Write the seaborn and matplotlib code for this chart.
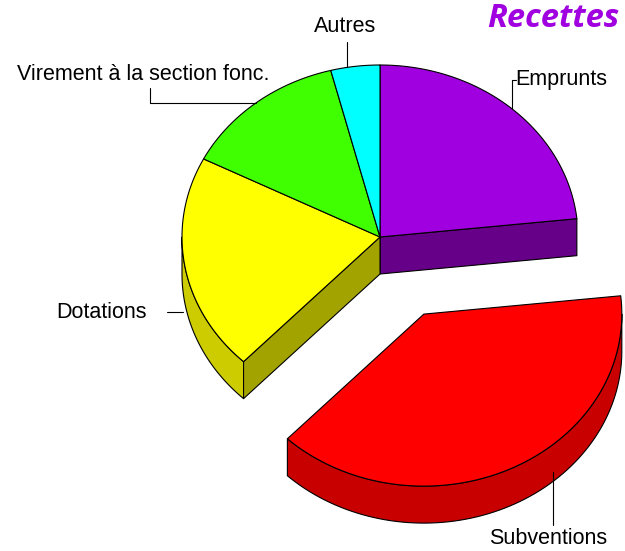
import numpy as np
import matplotlib
matplotlib.use("Agg")
import matplotlib.pyplot as plt
from matplotlib.patches import Polygon
import seaborn as sns

# data
labels = ["Emprunts", "Subventions", "Dotations", "Virement à la section fonc.", "Autres"]
values = [23.3, 38.8, 20.4, 13.5, 4.0]
explode = [0.0, 0.5, 0.0, 0.0, 0.0]
top_colors = ["#a000e0", "#ff0000", "#ffff00", "#40ff00", "#00ffff"]
arc_colors = ["#7a00aa", "#c80000", "#cccc00", "#30c000", "#00c0c0"]
side_colors = ["#660088", "#a00000", "#a3a300", "#289000", "#009090"]
title = "Recettes"

# pseudo-3D geometry (pixels)
CX, CY = 380, 237
RX, RY = 198, 172
DEPTH = 37

sns.set_theme(style="white")
plt.rcParams["font.family"] = ["Liberation Sans", "DejaVu Sans"]
plt.rcParams["text.color"] = "black"

fig = plt.figure(figsize=(6.25, 5.51), dpi=100)
ax = fig.add_axes([0, 0, 1, 1])
ax.set_xlim(0, 625)
ax.set_ylim(551, 0)
ax.axis("off")


def rim(cx, cy, ang, dz=0.0):
    a = np.radians(ang)
    return cx + RX * np.cos(a), cy - RY * np.sin(a) + dz


def arc(cx, cy, a1, a2, dz=0.0, n=80):
    t = np.radians(np.linspace(a1, a2, n))
    return np.column_stack([cx + RX * np.cos(t), cy - RY * np.sin(t) + dz])


# angles: start at 90 deg, clockwise
total = sum(values)
slices = []
start = 90.0
for i, v in enumerate(values):
    span = 360.0 * v / total
    a2 = start
    a1 = start - span
    mid = np.radians((a1 + a2) / 2)
    cx = CX + explode[i] * RX * np.cos(mid)
    cy = CY - explode[i] * RY * np.sin(mid)
    slices.append((a1, a2, cx, cy))
    start = a1

kw = dict(edgecolor="black", linewidth=0.8, joinstyle="round")
n = len(values)

# walls first
for i, (a1, a2, cx, cy) in enumerate(slices):
    # outer wall, front half only (180..360 deg)
    for k in (-1, 0, 1):
        lo = max(a1, 180 + 360 * k)
        hi = min(a2, 360 + 360 * k)
        if hi > lo:
            top = arc(cx, cy, lo, hi)
            bot = arc(cx, cy, lo, hi, DEPTH)[::-1]
            ax.add_patch(Polygon(np.vstack([top, bot]), closed=True,
                                 facecolor=arc_colors[i], **kw))
    # radial walls facing the viewer, only where a gap opens
    open1 = explode[i] > 0 or explode[(i + 1) % n] > 0
    open2 = explode[i] > 0 or explode[(i - 1) % n] > 0
    for ang, vis in ((a1, open1 and np.cos(np.radians(a1)) > 1e-6),
                     (a2, open2 and np.cos(np.radians(a2)) < -1e-6)):
        if vis:
            p = rim(cx, cy, ang)
            q = rim(cx, cy, ang, DEPTH)
            pts = [(cx, cy), p, q, (cx, cy + DEPTH)]
            ax.add_patch(Polygon(pts, closed=True, facecolor=side_colors[i], **kw))

# top faces
for i, (a1, a2, cx, cy) in enumerate(slices):
    pts = np.vstack([[cx, cy], arc(cx, cy, a1, a2)])
    ax.add_patch(Polygon(pts, closed=True, facecolor=top_colors[i], **kw))

# labels with leader lines
fs = 15.5
lc = dict(color="black", linewidth=0.8)

# Emprunts
a1, a2, cx, cy = slices[0]
x0, y0 = rim(cx, cy, (a1 + a2) / 2)
ax.plot([x0, x0, x0 + 4], [y0, 80, 80], **lc)
ax.text(x0 + 3, 80, labels[0], fontsize=fs, ha="left", va="center")

# Subventions
ax.plot([553, 553], [472, 525], **lc)
ax.text(548, 538, labels[1], fontsize=fs, ha="center", va="center")

# Dotations
ax.plot([167, 183], [312, 312], **lc)
ax.text(147, 312, labels[2], fontsize=fs, ha="right", va="center")

# Virement
a1, a2, cx, cy = slices[3]
x0, y0 = rim(cx, cy, (a1 + a2) / 2)
ax.plot([x0, 150, 150], [y0, y0, 88], **lc)
ax.text(143, 75, labels[3], fontsize=fs, ha="center", va="center")

# Autres
a1, a2, cx, cy = slices[4]
x0, y0 = rim(cx, cy, 99.5)
ax.plot([x0, x0], [y0, 42], **lc)
ax.text(345, 27, labels[4], fontsize=fs, ha="center", va="center")

ax.text(619, 27, title, fontsize=23.5, ha="right", va="baseline",
        color="#a000e0", fontweight="bold", fontstyle="italic",
        family=["Open Sans", "DejaVu Sans"])

fig.savefig("out.png", dpi=100)
